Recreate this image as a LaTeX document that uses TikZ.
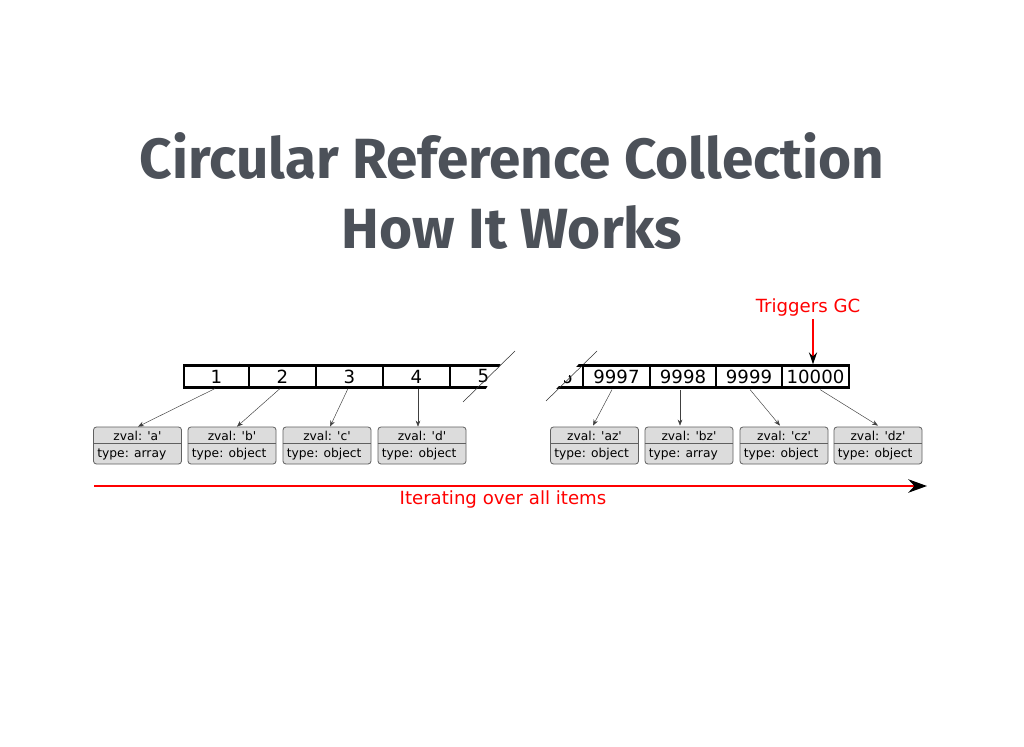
\documentclass[tikz,border=0pt]{standalone}
\usepackage{fontspec}
\setmainfont{DejaVu Sans}[Ligatures=TeXOff]
\newfontfamily\titlefont{Fira Sans}
\usetikzlibrary{arrows.meta,calc}
\definecolor{titlegray}{HTML}{4C5159}
\definecolor{boxfill}{HTML}{DCDCDC}
\definecolor{boxline}{HTML}{606060}
\definecolor{gcred}{HTML}{FF0000}
\tikzset{
  cell/.style={draw=black, line width=1.6pt, minimum height=16.5pt, inner sep=0pt, font=\fontsize{13.6}{14}\selectfont},
  zbox/.style={draw=boxline, fill=boxfill, line width=0.6pt, rounded corners=2.2pt, minimum width=66pt, minimum height=27.75pt, inner sep=0pt},
  ztext/.style={font=\fontsize{9.2}{10}\selectfont, inner sep=0pt},
  ptr/.style={draw=black!75, line width=0.35pt, -{Stealth[length=4.5pt,width=3.5pt]}},
  redarrow/.style={draw=gcred, line width=2.2pt},
  redtext/.style={text=gcred, font=\fontsize{13.6}{14}\selectfont, inner sep=0pt},
  titletext/.style={text=titlegray, font=\titlefont\bfseries\fontsize{42.5}{44}\selectfont, inner sep=0pt, anchor=base}
}
\begin{document}
\begin{tikzpicture}[x=0.75pt,y=-0.75pt]
\path[use as bounding box, fill=white] (0,0) rectangle (1024,746);
% title
\node[titletext] (t1) at (512,178) {Circular Reference Collection};
\node[titletext] (t2) at (512,248) {How It Works};
% left cells
\node[cell, minimum width=48.75pt] (c1) at (216.5,376.5) {1};
\node[cell, minimum width=50.25pt] (c2) at (282.5,376.5) {2};
\node[cell, minimum width=50.25pt] (c3) at (349.5,376.5) {3};
\node[cell, minimum width=50.25pt] (c4) at (416.5,376.5) {4};
\begin{scope}
\clip (445,355) -- (506,355) -- (481,397) -- (445,397) -- cycle;
\node[cell, minimum width=50.25pt] (c5) at (483.5,376.5) {5};
\end{scope}
\coordinate (l1) at (515,351);
\coordinate (l2) at (463,402);
\draw[line width=0.4pt, draw=black!80] (l1) -- (l2);
% right cells
\begin{scope}
\clip (587,355) -- (600,355) -- (600,397) -- (549,397) -- cycle;
\node[cell, minimum width=50.25pt] (c9996) at (549.5,376.5) {9996};
\end{scope}
\coordinate (r1) at (597,351);
\coordinate (r2) at (546,401);
\draw[line width=0.4pt, draw=black!80] (r1) -- (r2);
\node[cell, minimum width=50.25pt] (c9997) at (616.5,376.5) {9997};
\node[cell, minimum width=49.5pt] (c9998) at (683,376.5) {9998};
\node[cell, minimum width=49.5pt] (c9999) at (749,376.5) {9999};
\node[cell, minimum width=50.25pt] (c10000) at (815.5,376.5) {10000};
% zval boxes
\foreach \n/\x/\v/\t in {a/137.5/a/array, b/232/b/object, c/327/c/object, d/422/d/object, az/594.5/az/object, bz/689/bz/array, cz/784/cz/object, dz/878/dz/object}{
  \node[zbox] (b\n) at (\x,445.5) {};
  \draw[boxline, line width=0.6pt] ($(b\n.west)+(0,-2.5)$) -- ($(b\n.east)+(0,-2.5)$);
  \node[ztext] (z\n) at (\x,436) {zval: '\v'};
  \node[ztext, anchor=west] (y\n) at ($(b\n.west)+(4,8.5)$) {type: \t};
}
% pointers
\draw[ptr] ($(c1.south)+(-1.5,0)$) -- ($(ba.north)+(0.5,0)$);
\draw[ptr] ($(c2.south)+(-2.5,0)$) -- ($(bb.north)+(5,0)$);
\draw[ptr] ($(c3.south)+(-1.5,0)$) -- ($(bc.north)+(3,0)$);
\draw[ptr] ($(c4.south)+(1.5,0)$) -- ($(bd.north)+(-4,0)$);
\draw[ptr] ($(c9997.south)+(-4.5,1)$) -- ($(baz.north)+(-1.5,-1)$);
\draw[ptr] ($(c9998.south)+(-3,1)$) -- ($(bbz.north)+(-9,-1)$);
\draw[ptr] ($(c9999.south)+(1,1)$) -- ($(bcz.north)+(-4,-1)$);
\draw[ptr] ($(c10000.south)+(4.5,1)$) -- ($(bdz.north)+(0,-1)$);
% triggers GC
\node[redtext] (tg) at (808,307) {Triggers GC};
\draw[redarrow, -{Stealth[length=9pt,width=6pt,color=black]}] ($(tg.south)+(5,3)$) -- ($(c10000.north)+(-2.5,0)$);
% iterating
\coordinate (it1) at (94,486);
\coordinate (it2) at (927,486);
\draw[redarrow, -{Stealth[length=14pt,width=10pt,color=black]}] (it1) -- (it2);
\node[redtext] (it) at (503,499) {Iterating over all items};
\end{tikzpicture}
\end{document}
